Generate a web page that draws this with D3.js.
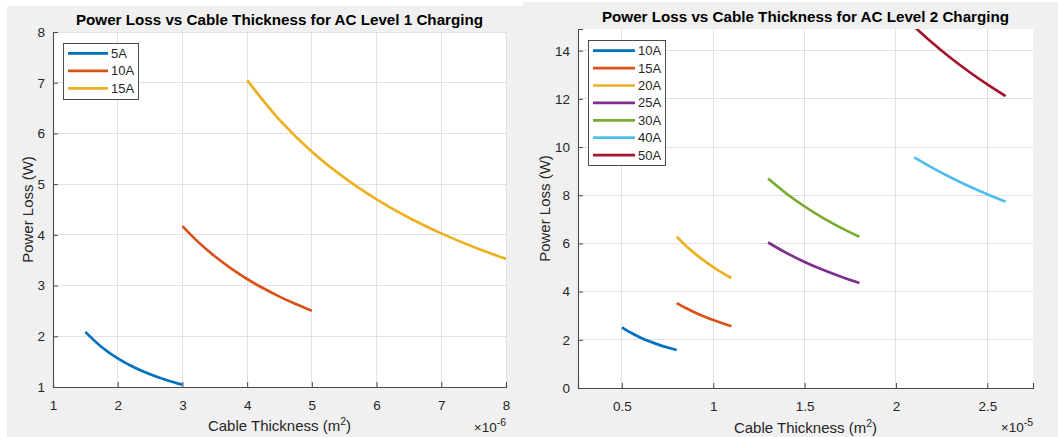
<!DOCTYPE html>
<html><head><meta charset="utf-8">
<script src="https://cdn.jsdelivr.net/npm/d3@7"></script>
<style>
html,body{margin:0;padding:0;background:#fff;}
svg{display:block;font-family:"Liberation Sans",Arial,Helvetica,sans-serif;}
</style></head>
<body><svg id="c" width="1058" height="437"></svg>
<script>
// ---------- Data: AC Level 1 (thickness in 1e-6 m^2) ----------
const l1Series = ["5A", "10A", "15A"];
const l1Thick5 = [1.5, 1.75, 2, 2.25, 2.5, 2.75, 3];
const l1Loss5  = [2.087, 1.789, 1.565, 1.391, 1.252, 1.138, 1.043];
const l1Thick10 = [3, 3.25, 3.5, 3.75, 4, 4.25, 4.5, 4.75, 5];
const l1Loss10  = [4.173, 3.852, 3.577, 3.339, 3.130, 2.946, 2.782, 2.636, 2.504];
const l1Thick15 = [4, 4.5, 5, 5.5, 6, 6.5, 7, 7.5, 8];
const l1Loss15  = [7.050, 6.267, 5.640, 5.127, 4.700, 4.338, 4.029, 3.760, 3.525];
const l1XTicks = [1, 2, 3, 4, 5, 6, 7, 8];
const l1YTicks = [1, 2, 3, 4, 5, 6, 7, 8];

// ---------- Data: AC Level 2 (thickness in 1e-5 m^2) ----------
const l2Series = ["10A", "15A", "20A", "25A", "30A", "40A", "50A"];
const l2ThickA = [0.5, 0.55, 0.6, 0.65, 0.7, 0.75, 0.8];
const l2ThickB = [0.8, 0.85, 0.9, 0.95, 1.0, 1.05, 1.1];
const l2ThickC = [1.3, 1.4, 1.5, 1.6, 1.7, 1.8];
const l2ThickD = [2.1, 2.2, 2.3, 2.4, 2.5, 2.6];
const l2Loss10 = [2.520, 2.291, 2.100, 1.938, 1.800, 1.680, 1.575];
const l2Loss15 = [3.525, 3.318, 3.133, 2.968, 2.820, 2.686, 2.564];
const l2Loss20 = [6.275, 5.906, 5.578, 5.284, 5.020, 4.781, 4.564];
const l2Loss25 = [6.038, 5.607, 5.233, 4.906, 4.618, 4.361];
const l2Loss30 = [8.692, 8.071, 7.533, 7.063, 6.647, 6.278];
const l2Loss40 = [9.571, 9.136, 8.739, 8.375, 8.040, 7.731];
const l2Loss50 = [15.000, 14.318, 13.696, 13.125, 12.600, 12.115];
const l2XTicks = [0.5, 1, 1.5, 2, 2.5];
const l2YTicks = [0, 2, 4, 6, 8, 10, 12, 14];

const colors = ["#0072BD", "#D95319", "#EDB120", "#7E2F8E", "#77AC30", "#4DBEEE", "#A2142F"];

const svg = d3.select("#c");

// panel backgrounds
svg.append("rect").attr("x", 7).attr("y", 6).attr("width", 516).attr("height", 431).attr("fill", "#f0f0f0");
svg.append("rect").attr("x", 523).attr("y", 2).attr("width", 535).attr("height", 435).attr("fill", "#f0f0f0");

function drawPanel(cfg) {
  const {x, y, xTicks, yTicks, series, names, title, expo, clipId, legend} = cfg;
  const [x0, x1] = x.range();
  const [y0, y1] = y.range(); // y0 bottom, y1 top
  const g = svg.append("g");
  g.append("rect").attr("x", x0).attr("y", y1).attr("width", x1 - x0).attr("height", y0 - y1).attr("fill", "#fff");
  // grid
  g.selectAll(".gx").data(xTicks).join("line")
    .attr("x1", d => x(d)).attr("x2", d => x(d)).attr("y1", y0).attr("y2", y1)
    .attr("stroke", "#e2e2e2").attr("stroke-width", 1).attr("shape-rendering", "crispEdges");
  g.selectAll(".gy").data(yTicks).join("line")
    .attr("x1", x0).attr("x2", x1).attr("y1", d => y(d)).attr("y2", d => y(d))
    .attr("stroke", "#e2e2e2").attr("stroke-width", 1).attr("shape-rendering", "crispEdges");
  // clip
  svg.append("clipPath").attr("id", clipId).append("rect")
    .attr("x", x0).attr("y", y1).attr("width", x1 - x0).attr("height", y0 - y1);
  const line = d3.line().x(d => x(d[0])).y(d => y(d[1])).curve(d3.curveCatmullRom.alpha(0.5));
  series.forEach((s, i) => {
    const pts = s[0].map((v, j) => [v, s[1][j]]);
    g.append("path").datum(pts).attr("d", line).attr("fill", "none")
      .attr("stroke", colors[i]).attr("stroke-width", 2.7).attr("stroke-linejoin", "round")
      .attr("clip-path", `url(#${clipId})`);
  });
  // axes
  const ax = g.append("g").attr("transform", `translate(0,${y0})`)
    .call(d3.axisBottom(x).tickValues(xTicks).tickSize(-5).tickPadding(13).tickFormat(d3.format("~g")));
  const ay = g.append("g").attr("transform", `translate(${x0},0)`)
    .call(d3.axisLeft(y).tickValues(yTicks).tickSize(-5).tickPadding(8).tickFormat(d3.format("~g")));
  [ax, ay].forEach(a => {
    a.select(".domain").attr("stroke", "#4a4a4a").attr("stroke-width", 1.1);
    a.selectAll(".tick line").attr("stroke", "#4a4a4a");
    a.selectAll(".tick text").attr("fill", "#262626").attr("font-size", 13.5)
      .attr("font-family", '"Liberation Sans",Arial,sans-serif');
  });
  // title
  g.append("text").attr("x", (x0 + x1) / 2).attr("y", cfg.titleY).attr("text-anchor", "middle")
    .attr("font-weight", "bold").attr("font-size", 15.2).attr("fill", "#000").text(title);
  // x label
  const xl = g.append("text").attr("x", (x0 + x1) / 2).attr("y", cfg.xLabelY).attr("text-anchor", "middle")
    .attr("font-size", 15).attr("fill", "#262626");
  xl.append("tspan").text("Cable Thickness (m");
  xl.append("tspan").attr("dy", -6).attr("font-size", 10.5).text("2");
  xl.append("tspan").attr("dy", 6).text(")");
  // exponent
  const ex = g.append("text").attr("x", x1).attr("y", 432).attr("text-anchor", "end")
    .attr("font-size", 13.5).attr("fill", "#262626");
  ex.append("tspan").text("\u00d710");
  ex.append("tspan").attr("dy", -6).attr("font-size", 10.5).text(expo);
  // y label
  g.append("text").attr("transform", `translate(${cfg.yLabelX},${(y0 + y1) / 2}) rotate(-90)`)
    .attr("text-anchor", "middle").attr("dominant-baseline", "central")
    .attr("font-size", 15).attr("fill", "#262626").text("Power Loss (W)");
  // legend
  const lg = g.append("g");
  lg.append("rect").attr("x", legend.x).attr("y", legend.y).attr("width", legend.w).attr("height", legend.h)
    .attr("fill", "#fff").attr("stroke", "#3a3a3a").attr("stroke-width", 0.9);
  names.forEach((n, i) => {
    const ry = legend.row0 + i * legend.step;
    lg.append("line").attr("x1", legend.lx0).attr("x2", legend.lx1).attr("y1", ry).attr("y2", ry)
      .attr("stroke", colors[i]).attr("stroke-width", 2.7);
    lg.append("text").attr("x", legend.lx1 + 3).attr("y", ry).attr("dominant-baseline", "central")
      .attr("font-size", 13).attr("fill", "#262626").text(n);
  });
}

drawPanel({
  x: d3.scaleLinear().domain([1, 8]).range([53, 506]),
  y: d3.scaleLinear().domain([1, 8]).range([387, 32]),
  xTicks: l1XTicks, yTicks: l1YTicks,
  series: [[l1Thick5, l1Loss5], [l1Thick10, l1Loss10], [l1Thick15, l1Loss15]],
  names: l1Series,
  title: "Power Loss vs Cable Thickness for AC Level 1 Charging",
  titleY: 25, xLabelY: 431, yLabelX: 27, expo: "-6", clipId: "clipL",
  legend: {x: 63.5, y: 43.5, w: 75, h: 56, row0: 53.3, step: 17.5, lx0: 68, lx1: 108}
});

drawPanel({
  x: d3.scaleLinear().domain([0.26, 2.75]).range([578, 1033]),
  y: d3.scaleLinear().domain([0, 14.9]).range([388, 29]),
  xTicks: l2XTicks, yTicks: l2YTicks,
  series: [[l2ThickA, l2Loss10], [l2ThickB, l2Loss15], [l2ThickB, l2Loss20], [l2ThickC, l2Loss25],
           [l2ThickC, l2Loss30], [l2ThickD, l2Loss40], [l2ThickD, l2Loss50]],
  names: l2Series,
  title: "Power Loss vs Cable Thickness for AC Level 2 Charging",
  titleY: 22, xLabelY: 433, yLabelX: 544, expo: "-5", clipId: "clipR",
  legend: {x: 588.5, y: 40.5, w: 77, h: 125, row0: 50.7, step: 17.4, lx0: 593, lx1: 635}
});
</script>
</body></html>
